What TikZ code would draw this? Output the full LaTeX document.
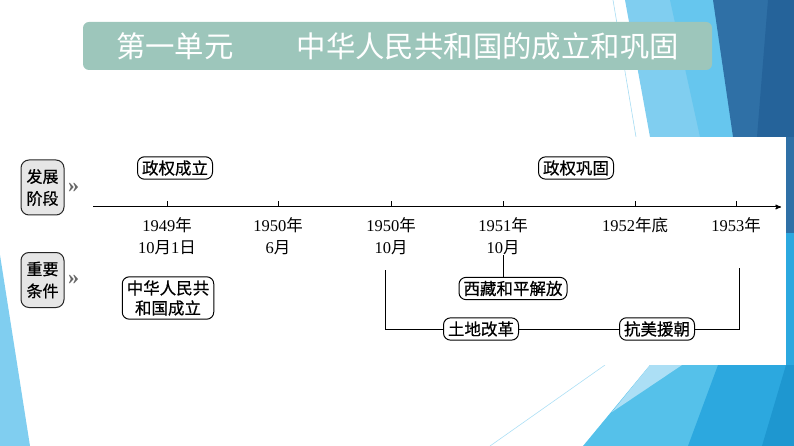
\documentclass[tikz,border=0pt]{standalone}
\usepackage{fontspec}
\setmainfont{Liberation Serif}
\newfontfamily\cjk{Noto Sans CJK SC}
\newfontfamily\cjkb{Noto Sans CJK SC}[FakeBold=0.6]
\usetikzlibrary{positioning, arrows}

\definecolor{bannerc}{HTML}{9DC6BB}
\definecolor{tagfill}{HTML}{E6E6E6}
\definecolor{vlight}{HTML}{A6DCF3}
\definecolor{light}{HTML}{80CEF0}
\definecolor{midlight}{HTML}{66C6EE}
\definecolor{dark}{HTML}{2F70A6}
\definecolor{darker}{HTML}{25639A}
\definecolor{blight}{HTML}{ACDFF5}
\definecolor{bmid}{HTML}{55C1EA}
\definecolor{bdeep}{HTML}{2CA8DF}
\definecolor{bdeepest}{HTML}{1E97D0}

\tikzset{
  box/.style={draw, fill=white, rounded corners=7pt, line width=1pt,
    font=\cjkb\fontsize{16.5}{20}\selectfont, align=center,
    inner xsep=4.5pt, inner ysep=3.5pt},
  tag/.style={draw=black!85, fill=tagfill, rounded corners=8pt, line width=1pt,
    font=\cjkb\fontsize{16}{22}\selectfont, align=center,
    minimum width=43pt, minimum height=55pt, inner sep=2pt},
  date/.style={font=\fontsize{16.5}{22}\selectfont, align=center, inner sep=0pt},
  chev/.style={text=black!60, font=\fontsize{22}{22}\selectfont\bfseries, inner sep=0pt},
}

\begin{document}
\begin{tikzpicture}[x=1pt, y=-1pt, line width=1pt, >=stealth']
\useasboundingbox (0,0) rectangle (794,446);

% background bands, top right
\draw[vlight, line width=0.6pt] (613,0) -- (636,137);
\fill[light] (625,0) -- (794,0) -- (794,137) -- (650,137) -- cycle;
\fill[midlight] (670,0) -- (794,0) -- (794,137) -- (700,137) -- cycle;
\fill[dark] (713,0) -- (794,0) -- (794,137) -- (733,137) -- cycle;
\fill[darker] (768,0) -- (794,0) -- (794,137) -- (757,137) -- cycle;
\fill[dark] (786,137) rectangle (794,233);
\fill[bdeep] (786,233) rectangle (794,446);
% background bands, bottom right
\fill[bmid] (583,446) -- (650,365) -- (794,365) -- (794,446) -- cycle;
\fill[blight] (650,365) -- (682,365) -- (612,412) -- cycle;
\fill[bdeep] (688,446) -- (718,365) -- (794,365) -- (794,446) -- cycle;
\fill[bdeepest] (762,446) -- (786,365) -- (794,365) -- (794,446) -- cycle;
\draw[blight, line width=0.6pt] (605,365) -- (490,446);

% white sheet
\fill[white] (15,137) rectangle (786,365);
\fill[light] (0,255) -- (30,446) -- (0,446) -- cycle;

% title
\node[fill=bannerc, rounded corners=6pt, minimum width=629pt, minimum height=48pt,
  text=white, font=\cjk\fontsize{29.4}{30}\selectfont] (title) at (397.5,46)
  {第一单元\hspace{63pt}中华人民共和国的成立和巩固};

% side tags
\node[tag] (stage) at (42.5,187.5) {发展\\阶段};
\node[tag] (cond) at (42.5,280) {重要\\条件};
\node[chev, right=3pt of stage] (stagechev) {»};
\node[chev, right=3pt of cond] (condchev) {»};

% time axis
\coordinate (axstart) at (93,207);
\coordinate (axend) at (781,207);
\draw[->] (axstart) -- (axend);
\foreach \n/\x in {a/167, b/278, c/391, d/503, e/635, f/736}{
  \coordinate (t\n) at (\x,207);
  \draw (t\n) -- ++(0,-6);
}

% dates
\node[date, below=10pt of ta] (da) {1949{\cjk 年}\\10{\cjk 月}1{\cjk 日}};
\node[date, below=10pt of tb] (db) {1950{\cjk 年}\\6{\cjk 月}};
\node[date, below=10pt of tc] (dc) {1950{\cjk 年}\\10{\cjk 月}};
\node[date, below=10pt of td] (dd) {1951{\cjk 年}\\10{\cjk 月}};
\node[date, below=10pt of te] (de) {1952{\cjk 年底}};
\node[date, below=10pt of tf] (df) {1953{\cjk 年}};

% stages
\node[box] (founded) at (175,168) {政权成立};
\node[box] (consol) at (576,168) {政权巩固};

% conditions
\node[box] (prc) at (168,298) {中华人民共\\和国成立};
\node[box] (tibet) at (513,288.5) {西藏和平解放};
\node[box] (land) at (481,329) {土地改革};
\node[box] (korea) at (657,329) {抗美援朝};
\coordinate (brl) at (385,270);
\coordinate (brr) at (739,268);
\draw (dd.south) -- (dd.south |- tibet.north);
\draw (brl) |- (land);
\draw (land) -- (korea);
\draw (korea) -| (brr);
\end{tikzpicture}
\end{document}
